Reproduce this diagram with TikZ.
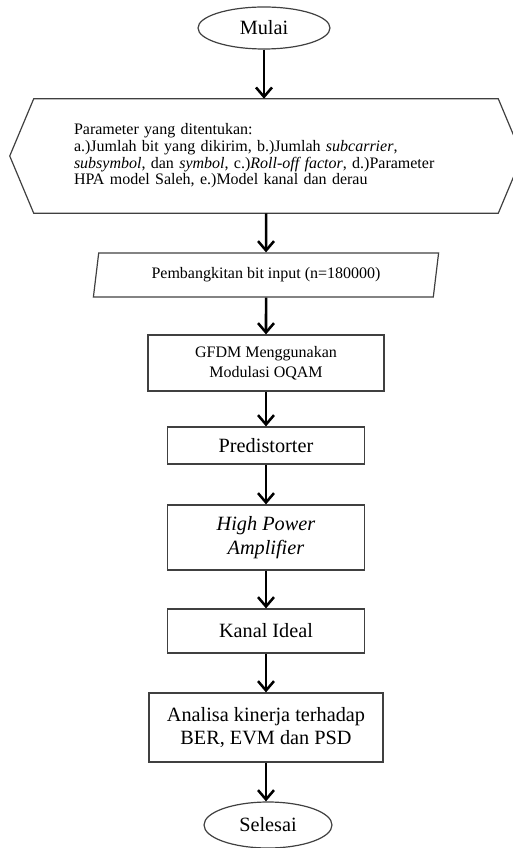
\documentclass[tikz,border=0pt]{standalone}
\usepackage{fontspec}
\setmainfont{Liberation Serif}
\usetikzlibrary{shapes.geometric,arrows.meta,calc}

\begin{document}
\begin{tikzpicture}[
    x=0.75pt, y=-0.75pt,
    box/.style={draw=black!75, line width=0.9pt, inner sep=0pt, align=center},
    small/.style={font=\fontsize{12}{15}\selectfont},
    big/.style={font=\fontsize{15.2}{17.5}\selectfont},
    term/.style={box, big, ellipse},
    arr/.style={line width=1.9pt, -{Straight Barb[length=7pt,width=12pt]}}
]
  \useasboundingbox (0,0) rectangle (513,848);
  \clip (0,0) rectangle (513,848);

  % Start
  \node[term, minimum width=99pt, minimum height=31.5pt] (mulai) at (264,28) {Mulai};

  % Parameters (hexagon)
  \node[align=left, text width=288pt, inner xsep=30pt, inner ysep=0pt,
        minimum width=348pt, minimum height=85.5pt,
        font=\fontsize{12}{12.5}\selectfont] (param) at (266,156)
    {Parameter yang ditentukan:\\
     a.)Jumlah bit yang dikirim, b.)Jumlah \textit{subcarrier},\\
     \textit{subsymbol}, dan \textit{symbol}, c.)\textit{Roll-off factor}, d.)Parameter\\
     HPA model Saleh, e.)Model kanal dan derau};
  \draw[draw=black!75, line width=0.9pt]
    (param.north west) -- ($(param.west)+(-24,0)$) -- (param.south west)
    -- (param.south east) -- ($(param.east)+(24,0)$) -- (param.north east) -- cycle;

  % Input bits
  \node[box, small, trapezium, trapezium left angle=76, trapezium right angle=104,
        trapezium stretches=true, minimum width=259.5pt, minimum height=33pt]
    (bit) at (266,275) {Pembangkitan bit input (n=180000)};

  % Processing blocks
  \node[box, small, minimum width=177pt, minimum height=42pt] (gfdm) at (266,363)
    {GFDM Menggunakan\\Modulasi OQAM};
  \node[box, big, minimum width=147.75pt, minimum height=27.75pt] (pred) at (266,445.5)
    {Predistorter};
  \node[box, big, minimum width=147.75pt, minimum height=48.75pt] (hpa) at (266,537.5)
    {\textit{High Power}\\\textit{Amplifier}};
  \node[box, big, minimum width=147.75pt, minimum height=33pt] (kanal) at (266,631)
    {Kanal Ideal};
  \node[box, big, minimum width=175.5pt, minimum height=51.75pt] (analisa) at (266,727.5)
    {Analisa kinerja terhadap\\BER, EVM dan PSD};

  % End
  \node[term, minimum width=96pt, minimum height=34.5pt] (selesai) at (268,825) {Selesai};

  % Flow
  \draw[arr] (mulai.south) -- (mulai.south |- param.north);
  \foreach \a/\b in {param/bit, bit/gfdm, gfdm/pred,
                     pred/hpa, hpa/kanal, kanal/analisa}
    \draw[arr] (\a) -- (\b);
  \draw[arr] (analisa.south) -- (analisa.south |- selesai.north);
\end{tikzpicture}
\end{document}
